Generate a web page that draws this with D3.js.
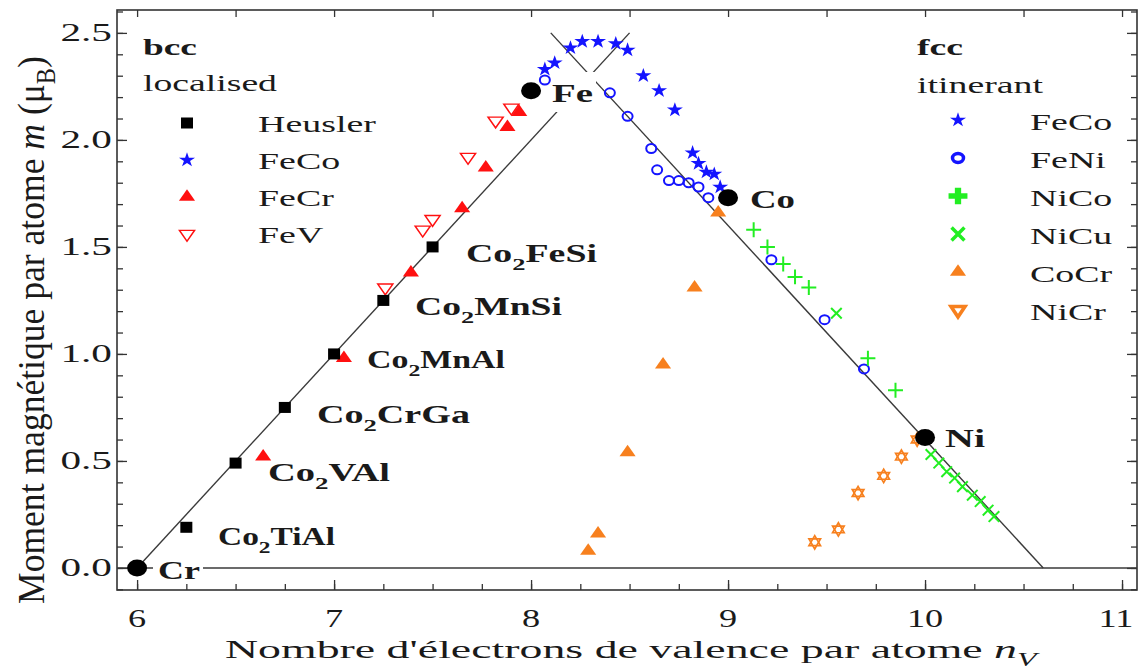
<!DOCTYPE html>
<html>
<head>
<meta charset="utf-8">
<script src="https://cdn.jsdelivr.net/npm/d3@7"></script>
<style>
  body { margin: 0; background: #fff; }
  svg { display: block; }
  text { font-family: "Liberation Serif", "Times New Roman", serif; fill: #1a1a1a; }
</style>
</head>
<body>
<div id="chart"></div>
<script>
// ---- data: [nV, m] ----
const heusler = [[6.25, 0.19], [6.5, 0.49], [6.75, 0.75], [7.0, 1.0], [7.25, 1.25], [7.5, 1.5]];
const heuslerNames = ["TiAl", "VAl", "CrGa", "MnAl", "MnSi", "FeSi"];
const feCrBcc = [[6.64, 0.52], [7.05, 0.98], [7.39, 1.38], [7.65, 1.68], [7.77, 1.87], [7.88, 2.06], [7.94, 2.13]];
const feVBcc = [[7.26, 1.31], [7.45, 1.58], [7.50, 1.63], [7.68, 1.92], [7.82, 2.09], [7.90, 2.15]];
const feCoBcc = [[8.07, 2.33], [8.12, 2.36], [8.20, 2.43], [8.26, 2.46], [8.34, 2.46], [8.43, 2.45], [8.49, 2.42]];
const feCoFcc = [[8.57, 2.30], [8.65, 2.23], [8.73, 2.14], [8.82, 1.94], [8.85, 1.89], [8.89, 1.85], [8.93, 1.84], [8.96, 1.78]];
const feNiFcc = [[8.07, 2.28], [8.40, 2.22], [8.49, 2.11], [8.61, 1.96], [8.64, 1.86], [8.70, 1.81], [8.75, 1.81],
                 [8.80, 1.80], [8.85, 1.78], [8.90, 1.73], [9.22, 1.44], [9.49, 1.16], [9.69, 0.93]];
const niCoFcc = [[9.13, 1.58], [9.20, 1.50], [9.28, 1.42], [9.34, 1.36], [9.41, 1.31], [9.71, 0.98], [9.85, 0.83]];
const niCuFcc = [[9.55, 1.19], [10.03, 0.53], [10.07, 0.49], [10.11, 0.45], [10.15, 0.42], [10.19, 0.38],
                 [10.24, 0.34], [10.28, 0.31], [10.32, 0.27], [10.35, 0.24]];
const coCrFcc = [[8.29, 0.08], [8.34, 0.16], [8.49, 0.54], [8.67, 0.95], [8.83, 1.31], [8.95, 1.66]];
const niCrFcc = [[9.44, 0.12], [9.56, 0.18], [9.66, 0.35], [9.79, 0.43], [9.88, 0.52], [9.96, 0.60]];
const elements = ["Cr", "Fe", "Co", "Ni"];
const elementNV = [6, 8, 9, 10];
const elementM = [0, 2.23, 1.73, 0.61];
// Slater-Pauling lines
const bccLine = [[6, 0], [8.5, 2.5]];
const fccLine = [[8.1, 2.5], [10.6, 0]];
const xTicks = [6, 7, 8, 9, 10, 11];
const yTicks = [0, 0.5, 1.0, 1.5, 2.0, 2.5];

// ---- layout ----
const width = 1140, height = 669;
const frame = {left: 117, right: 1137, top: 10, bottom: 590};
const SX = 1.65;   // the figure's text is stretched sideways

const blue = "#1414ff", red = "#ff1010", green = "#22ee22", orange = "#f7801e";

const svg = d3.select("#chart").append("svg")
    .attr("width", width)
    .attr("height", height);

const x = d3.scaleLinear().domain([5.898, 11.076]).range([frame.left, frame.right]);
const y = d3.scaleLinear().domain([-0.103, 2.607]).range([frame.bottom, frame.top]);

// text helper: parts like "Co", "_2" (subscript), "*m" (italic)
function addText(parent, px, py, parts, o) {
    o = o || {};
    const fs = o.size || 24;
    const g = parent.append("g");
    const t = g.append("text")
        .attr("font-size", fs)
        .attr("font-weight", o.bold ? "bold" : null);
    let shift = 0;
    parts.forEach(p => {
        let txt = p, it = false, sub = false;
        if (txt.startsWith("*")) { it = true; txt = txt.slice(1); }
        if (txt.startsWith("_")) { sub = true; txt = txt.slice(1); }
        const s = t.append("tspan").text(txt);
        if (it) s.attr("font-style", "italic");
        if (sub) { s.attr("font-size", fs * 0.7).attr("dy", fs * 0.3 - shift); shift = fs * 0.3; }
        else if (shift) { s.attr("dy", -shift); shift = 0; }
    });
    const w = t.node().getComputedTextLength();
    const k = o.width ? o.width / w : (o.sx || SX);
    const anchor = o.anchor || "start";
    t.attr("x", anchor === "middle" ? -w / 2 : anchor === "end" ? -w : 0);
    g.attr("transform", `translate(${px},${py}) scale(${k},1)`);
    return g;
}

// ---- axes (ticks point inward) ----
function ticksOnly(axis, vals, size) {
    return axis.tickValues(vals).tickSize(-size).tickFormat("");
}
const xMinor = d3.range(6, 11.01, 0.25);
const xHalf = d3.range(6, 11.01, 0.5);
const yMinor = d3.range(-0.1, 2.61, 0.1).map(v => +v.toFixed(1));

const axes = svg.append("g").attr("stroke-width", 1.3);
axes.append("g").attr("transform", `translate(0,${frame.bottom})`).call(ticksOnly(d3.axisBottom(x), xMinor, 6));
axes.append("g").attr("transform", `translate(0,${frame.bottom})`).call(ticksOnly(d3.axisBottom(x), xTicks, 10));
axes.append("g").attr("transform", `translate(0,${frame.top})`).call(ticksOnly(d3.axisTop(x), xHalf, 7));
axes.append("g").attr("transform", `translate(${frame.left},0)`).call(ticksOnly(d3.axisLeft(y), yMinor, 6));
axes.append("g").attr("transform", `translate(${frame.left},0)`).call(ticksOnly(d3.axisLeft(y), yTicks, 10));
axes.append("g").attr("transform", `translate(${frame.right},0)`).call(ticksOnly(d3.axisRight(y), yMinor, 6));
axes.append("g").attr("transform", `translate(${frame.right},0)`).call(ticksOnly(d3.axisRight(y), yTicks, 10));
axes.selectAll(".domain").remove();
axes.selectAll("line").attr("stroke", "#333");

svg.append("rect")
    .attr("x", frame.left).attr("y", frame.top)
    .attr("width", frame.right - frame.left).attr("height", frame.bottom - frame.top)
    .attr("fill", "none").attr("stroke", "#333").attr("stroke-width", 1.6);

// tick labels (the last one is pulled in a little, as in the figure)
xTicks.forEach(v => addText(svg, Math.min(x(v), 1116), 627, [String(v)], {size: 25, anchor: "middle", sx: 1.45}));
yTicks.forEach(v => addText(svg, 112, y(v) + 8, [d3.format(".1f")(v)], {size: 25, anchor: "end"}));

// axis titles
addText(svg, 225, 658, ["Nombre d'électrons de valence par atome ", "*n", "*_V"], {size: 25.5, width: 812});
const yTitle = svg.append("g");
const yt = yTitle.append("text").attr("font-size", 25);
yt.append("tspan").text("Moment magnétique par atome ");
yt.append("tspan").attr("font-style", "italic").text("m");
yt.append("tspan").text(" (μ");
yt.append("tspan").attr("font-size", 17).attr("dy", 7).text("B");
yt.append("tspan").attr("dy", -7).text(")");
const ytw = yt.node().getComputedTextLength();
yt.attr("x", -ytw / 2);
yTitle.attr("transform", `translate(44,330) scale(1.55,1) rotate(-90) scale(${548 / ytw},1)`);

// ---- lines ----
const line = d3.line().x(d => x(d[0])).y(d => y(d[1]));
const lines = svg.append("g").attr("fill", "none").attr("stroke", "#3a3a3a").attr("stroke-width", 1.4);
lines.append("path").attr("d", line([[x.domain()[0], 0], [x.domain()[1], 0]]));
lines.append("path").attr("d", line(bccLine));
lines.append("path").attr("d", line(fccLine));

// white boxes behind the Cr and Fe labels
svg.append("rect").attr("x", 153).attr("y", 557).attr("width", 50).attr("height", 24).attr("fill", "#fff");
svg.append("rect").attr("x", 550).attr("y", 72).attr("width", 46).attr("height", 40).attr("fill", "#fff");

// ---- markers ----
const sym = (type, size) => d3.symbol().type(type).size(size)();
function marker(g, kind, big) {
    switch (kind) {
        case "square":
            g.append("rect").attr("x", -6).attr("y", -5.5).attr("width", 12).attr("height", 11).attr("fill", "#000");
            break;
        case "star":
            g.append("path").attr("d", sym(d3.symbolStar, 66)).attr("fill", blue)
                .attr("transform", "scale(1.1,1)");
            break;
        case "triRed":
            g.append("path").attr("d", sym(d3.symbolTriangle, 85)).attr("fill", red)
                .attr("transform", "scale(1.15,0.95)");
            break;
        case "triDownRed":
            g.append("path").attr("d", sym(d3.symbolTriangle, 75)).attr("fill", "#fff")
                .attr("stroke", red).attr("stroke-width", 1.4)
                .attr("transform", "scale(1.15,0.95) rotate(180)");
            break;
        case "circle":
            g.append("ellipse").attr("rx", big ? 5.5 : 5).attr("ry", 4.5)
                .attr("fill", "none").attr("stroke", blue).attr("stroke-width", big ? 3.5 : 2);
            break;
        case "plus":
            if (big) g.append("path").attr("d", sym(d3.symbolCross, 150)).attr("fill", green).attr("transform", "scale(1.15,1)");
            else g.append("path").attr("d", sym(d3.symbolPlus, 75)).attr("fill", "none").attr("stroke", green).attr("stroke-width", 2);
            break;
        case "times":
            g.append("path").attr("d", sym(d3.symbolTimes, big ? 110 : 75)).attr("fill", "none")
                .attr("stroke", green).attr("stroke-width", big ? 3.5 : 2);
            break;
        case "triOrange":
            g.append("path").attr("d", sym(d3.symbolTriangle, 85)).attr("fill", orange)
                .attr("transform", "scale(1.15,0.95)");
            break;
        case "hexOrange":
            if (big) {
                g.append("path").attr("d", sym(d3.symbolTriangle, 70)).attr("fill", "#fff")
                    .attr("stroke", orange).attr("stroke-width", 3.5).attr("transform", "scale(1.1,0.95) rotate(180)");
            } else {
                [0, 180].forEach(r => g.append("path").attr("d", sym(d3.symbolTriangle, 58)).attr("fill", "none")
                    .attr("stroke", orange).attr("stroke-width", 1.7).attr("transform", `rotate(${r})`));
            }
            break;
        case "dot":
            g.append("ellipse").attr("rx", 10).attr("ry", 8.5).attr("fill", "#000");
            break;
    }
}

function plotSeries(data, kind) {
    const gs = svg.append("g").selectAll("g")
        .data(data)
        .enter()
        .append("g")
        .attr("transform", d => `translate(${x(d[0])},${y(d[1])})`);
    gs.each(function() { marker(d3.select(this), kind); });
}

plotSeries(feNiFcc, "circle");
plotSeries(coCrFcc, "triOrange");
plotSeries(niCrFcc, "hexOrange");
plotSeries(niCoFcc, "plus");
plotSeries(niCuFcc, "times");
plotSeries(feVBcc, "triDownRed");
plotSeries(feCrBcc, "triRed");
plotSeries(heusler, "square");
plotSeries(feCoBcc, "star");
plotSeries(feCoFcc, "star");
plotSeries(elementNV.map((v, i) => [v, elementM[i]]), "dot");

// ---- labels ----
const heuslerLabelPos = [[218, 545, 117], [268, 481, 122], [317, 423, 153], [367, 368, 138], [415, 315, 147], [466, 262, 131]];
heuslerNames.forEach((n, i) => {
    const p = heuslerLabelPos[i];
    addText(svg, p[0], p[1], ["Co", "_2", n], {size: 25, bold: true, width: p[2]});
});
const elementLabelPos = [[158, 579, 42], [552, 102, 41], [750, 208, 45], [945, 447, 40]];
elements.forEach((n, i) => {
    const p = elementLabelPos[i];
    addText(svg, p[0], p[1], [n], {size: 25, bold: true, width: p[2]});
});

// ---- legends ----
const bccLegend = [["Heusler", "square"], ["FeCo", "star"], ["FeCr", "triRed"], ["FeV", "triDownRed"]];
const fccLegend = [["FeCo", "star"], ["FeNi", "circle"], ["NiCo", "plus"], ["NiCu", "times"], ["CoCr", "triOrange"], ["NiCr", "hexOrange"]];

addText(svg, 143, 55, ["bcc"], {size: 23, bold: true, width: 54});
addText(svg, 143, 91, ["localised"], {size: 23, width: 134});
bccLegend.forEach((d, i) => {
    const by = 132 + i * 37;
    marker(svg.append("g").attr("transform", `translate(187,${by - 9})`), d[1], true);
    addText(svg, 258, by, [d[0]], {size: 23});
});

addText(svg, 917, 55, ["fcc"], {size: 23, bold: true, width: 46});
addText(svg, 917, 93, ["itinerant"], {size: 23, width: 126});
fccLegend.forEach((d, i) => {
    const by = 130 + i * 38;
    marker(svg.append("g").attr("transform", `translate(958,${by - 10})`), d[1], true);
    addText(svg, 1030, by, [d[0]], {size: 23});
});
</script>
</body>
</html>
